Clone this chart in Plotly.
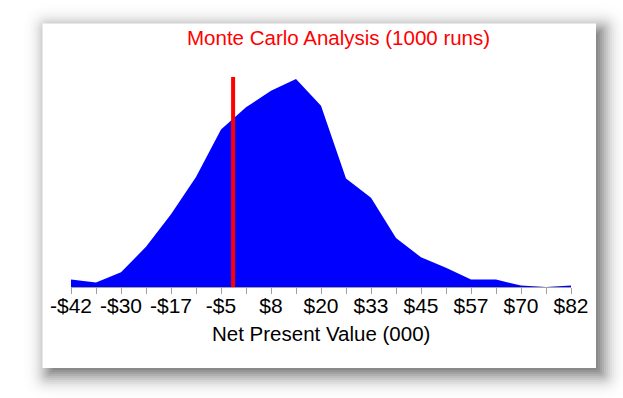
import numpy as np
import plotly.graph_objects as go
from math import erf, sqrt

# ---------------- data ----------------
bin_centers = [-42.0, -35.8, -29.6, -23.4, -17.2, -11.0, -4.8, 1.4, 7.6, 13.8, 20.0,
               26.2, 32.4, 38.6, 44.8, 51.0, 57.2, 63.4, 69.6, 75.8, 82.0]
run_counts = [5, 3, 10, 27, 49, 74, 106, 121, 132, 140, 122,
              73, 60, 33, 20, 13, 5, 5, 1, 0, 1]
tick_values = [-42.0, -29.6, -17.2, -4.8, 7.6, 20.0, 32.4, 44.8, 57.2, 69.6, 82.0]
tick_labels = ["-$42", "-$30", "-$17", "-$5", "$8", "$20", "$33", "$45", "$57", "$70", "$82"]
marker_npv = -1.8
y_max = 141.3

title_text = "Monte Carlo Analysis (1000 runs)"
x_title = "Net Present Value (000)"

# ---------------- layout helpers ----------------
W, H = 623, 398
def px(x):
    return x / W
def py(y):
    return 1 - y / H

FONT = "Liberation Sans, Arial, sans-serif"

fig = go.Figure()

fig.add_trace(go.Scatter(
    x=bin_centers, y=run_counts, mode="lines", fill="tozeroy",
    line=dict(color="rgb(0,0,255)", width=0), fillcolor="rgb(0,0,255)",
    hoverinfo="skip", showlegend=False))

fig.add_trace(go.Scatter(
    x=[marker_npv, marker_npv], y=[0, y_max], mode="lines",
    line=dict(color="rgb(255,0,0)", width=4),
    hoverinfo="skip", showlegend=False))

# ---------------- frame with drop shadow ----------------
BL, BT, BR, BB = 42.5, 23.5, 596, 368
off = 6
sigma = 10.0
peak = 0.65
shapes = []

def rounded_path(l, t, r, b, rad):
    rad = max(0.0, min(rad, (r - l) / 2, (b - t) / 2))
    X = px; Y = py
    if rad <= 0.01:
        return f"M{X(l)},{Y(t)} L{X(r)},{Y(t)} L{X(r)},{Y(b)} L{X(l)},{Y(b)} Z"
    return (f"M{X(l+rad)},{Y(t)} L{X(r-rad)},{Y(t)} Q{X(r)},{Y(t)} {X(r)},{Y(t+rad)} "
            f"L{X(r)},{Y(b-rad)} Q{X(r)},{Y(b)} {X(r-rad)},{Y(b)} "
            f"L{X(l+rad)},{Y(b)} Q{X(l)},{Y(b)} {X(l)},{Y(b-rad)} "
            f"L{X(l)},{Y(t+rad)} Q{X(l)},{Y(t)} {X(l+rad)},{Y(t)} Z")

def D(d):
    return peak * (1 - 0.5 * (1 + erf(d / (sigma * sqrt(2)))))

exps = list(np.arange(26, -14, -2.0))  # descending expansions
prev = 0.0
for e in exps:
    target = D(e - 1.0)
    a = 1 - (1 - target) / (1 - prev) if prev < 1 else 0
    prev = target
    if a <= 0.001:
        continue
    shapes.append(dict(
        type="path", xref="paper", yref="paper", layer="below",
        path=rounded_path(BL + off - e, BT + off - e, BR + off + e, BB + off + e, max(e, 0) + 2),
        fillcolor=f"rgba(0,0,0,{a:.4f})", line=dict(width=0)))

shapes.append(dict(type="rect", xref="paper", yref="paper", layer="below",
                   x0=px(BL), x1=px(BR), y0=py(BB), y1=py(BT),
                   fillcolor="white", line=dict(width=0)))

fig.update_layout(
    width=W, height=H, autosize=False,
    margin=dict(l=0, r=0, t=0, b=0, pad=0, autoexpand=False),
    paper_bgcolor="white", plot_bgcolor="rgba(0,0,0,0)",
    shapes=shapes,
    showlegend=False,
    xaxis=dict(
        domain=[px(71), px(571)],
        range=[bin_centers[0], bin_centers[-1]],
        automargin=False,
        tickmode="array", tickvals=tick_values, ticktext=tick_labels,
        ticks="outside", ticklen=6, tickcolor="#a0a0a0", tickwidth=1,
        minor=dict(tickvals=bin_centers, ticks="outside", ticklen=6, tickcolor="#a0a0a0", tickwidth=1),
        showline=True, linecolor="#a0a0a0", linewidth=1,
        showgrid=False, zeroline=False,
        tickfont=dict(family=FONT, size=21, color="black"),
        ticklabelstandoff=-6,
        fixedrange=True,
    ),
    yaxis=dict(
        domain=[py(287), py(77)],
        range=[0, y_max],
        automargin=False,
        visible=False, showgrid=False, zeroline=False, fixedrange=True,
    ),
    annotations=[
        dict(text=title_text, xref="paper", yref="paper", x=px(339), y=py(38),
             xanchor="center", yanchor="middle", showarrow=False,
             font=dict(family=FONT, size=20.5, color="rgb(255,0,0)")),
        dict(text=x_title, xref="paper", yref="paper", x=px(321), y=py(333),
             xanchor="center", yanchor="middle", showarrow=False,
             font=dict(family=FONT, size=20.5, color="black")),
    ],
)

fig.write_html("out.html", config={"displayModeBar": False},
               post_script="document.body.style.margin='0';document.body.style.overflow='hidden';")
